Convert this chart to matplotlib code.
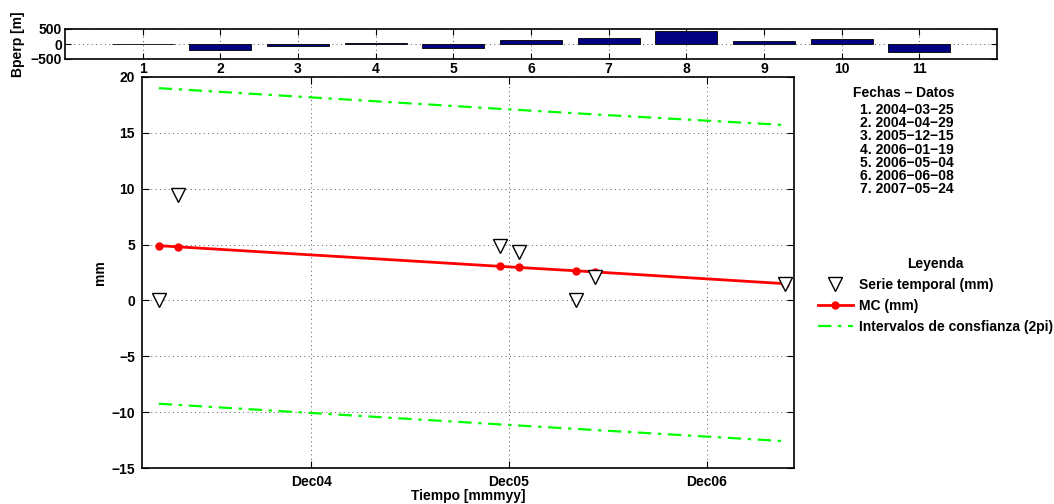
import numpy as np
import pandas as pd
import matplotlib
matplotlib.use("Agg")
import matplotlib.pyplot as plt

plt.rcParams['font.family'] = ['Liberation Sans', 'DejaVu Sans']
plt.rcParams['font.weight'] = 'bold'

# Bperp per interferogram
bperp_idx = np.arange(1, 12)
bperp = [-15, -185, -75, 40, -120, 120, 210, 420, 90, 180, -265]

# time series
fechas = ['2004-03-25', '2004-04-29', '2005-12-15', '2006-01-19',
          '2006-05-04', '2006-06-08', '2007-05-24']
serie = [0.0, 9.4, 4.9, 4.3, 0.0, 2.1, 1.5]
mc = [4.9, 4.8, 3.05, 2.95, 2.65, 2.55, 1.5]
ic_sup = [19.0, 18.9, 17.15, 17.05, 16.75, 16.65, 15.7]
ic_inf = [-9.25, -9.35, -11.1, -11.2, -11.5, -11.6, -12.6]

dticks = ['2004-12-31', '2005-12-31', '2006-12-31']
dtick_labels = ['Dec04', 'Dec05', 'Dec06']

t = pd.to_datetime(fechas)
W, H = 1054, 504
grid_style = dict(linestyle=(0, (1, 3.5)), color='#555555', linewidth=0.7)

fig = plt.figure(figsize=(W/100, H/100), dpi=100)

# --- top: perpendicular baselines ---
ax0 = fig.add_axes([65/W, 1-59/H, (997-65)/W, 30/H])
ax0.bar(bperp_idx, bperp, width=0.8, color='#000080', edgecolor='black', linewidth=0.6, zorder=3)
ax0.set_xlim(0, 12)
ax0.set_ylim(-500, 500)
ax0.set_yticks([-500, 0, 500])
ax0.set_yticklabels(['\u2212500', '0', '500'])
ax0.set_xticks(bperp_idx)
ax0.grid(True, **grid_style)
ax0.tick_params(direction='in', length=4, labelsize=10, top=True, right=True, pad=2)
ax0.set_ylabel('Bperp [m]', fontsize=10, fontweight='bold', labelpad=4)
for s in ax0.spines.values():
    s.set_linewidth(1.2)

# --- main: time series ---
ax = fig.add_axes([142/W, 1-468/H, (794-142)/W, (468-77)/H])
ax.plot(t, ic_sup, color='#00ff00', linestyle=(0, (6, 3, 1.5, 3)), linewidth=1.6, zorder=2)
ax.plot(t, ic_inf, color='#00ff00', linestyle=(0, (6, 3, 1.5, 3)), linewidth=1.6, zorder=2,
        label='Intervalos de consfianza (2pi)')
ax.plot(t, mc, color='red', linewidth=2, marker='o', markersize=5, zorder=3, label='MC (mm)')
ax.plot(t, serie, linestyle='none', marker='v', markersize=10, markerfacecolor='white',
        markeredgecolor='black', markeredgewidth=1.0, zorder=4, label='Serie temporal (mm)')

ax.set_xlim(pd.Timestamp('2004-02-23'), pd.Timestamp('2007-06-10'))
ax.set_ylim(-15, 20)
ax.set_yticks(np.arange(-15, 21, 5))
ax.set_yticklabels([str(v).replace('-', '\u2212') for v in range(-15, 21, 5)])
ax.set_xticks(pd.to_datetime(dticks))
ax.set_xticklabels(dtick_labels)
ax.grid(True, **grid_style)
ax.tick_params(direction='in', length=5, labelsize=10, top=True, right=True, pad=5)
ax.set_xlabel('Tiempo [mmmyy]', fontsize=10, fontweight='bold', labelpad=0)
ax.set_ylabel('mm', fontsize=10, fontweight='bold', labelpad=3)
for s in ax.spines.values():
    s.set_linewidth(1.2)

h, l = ax.get_legend_handles_labels()
order = [2, 1, 0]
leg = ax.legend([h[i] for i in order], [l[i] for i in order], title='Leyenda',
                loc='upper left', bbox_to_anchor=(818/W, 1-257/H), bbox_transform=fig.transFigure,
                frameon=False, borderpad=0, borderaxespad=0,
                fontsize=10, title_fontproperties={'weight': 'bold', 'size': 10},
                handlelength=2.5, handletextpad=0.45, labelspacing=0.5)
for txt in leg.get_texts():
    txt.set_fontweight('bold')

# dates list
fig.text(904/W, 1-93/H, 'Fechas \u2013 Datos', ha='center', va='center', fontsize=10, fontweight='bold')
for i, f in enumerate(fechas):
    fig.text(907/W, 1-(110+i*13.2)/H, '%d. %s' % (i+1, f.replace('-', '\u2212')),
             ha='center', va='center', fontsize=10, fontweight='bold')

fig.savefig('out.png', dpi=100)
